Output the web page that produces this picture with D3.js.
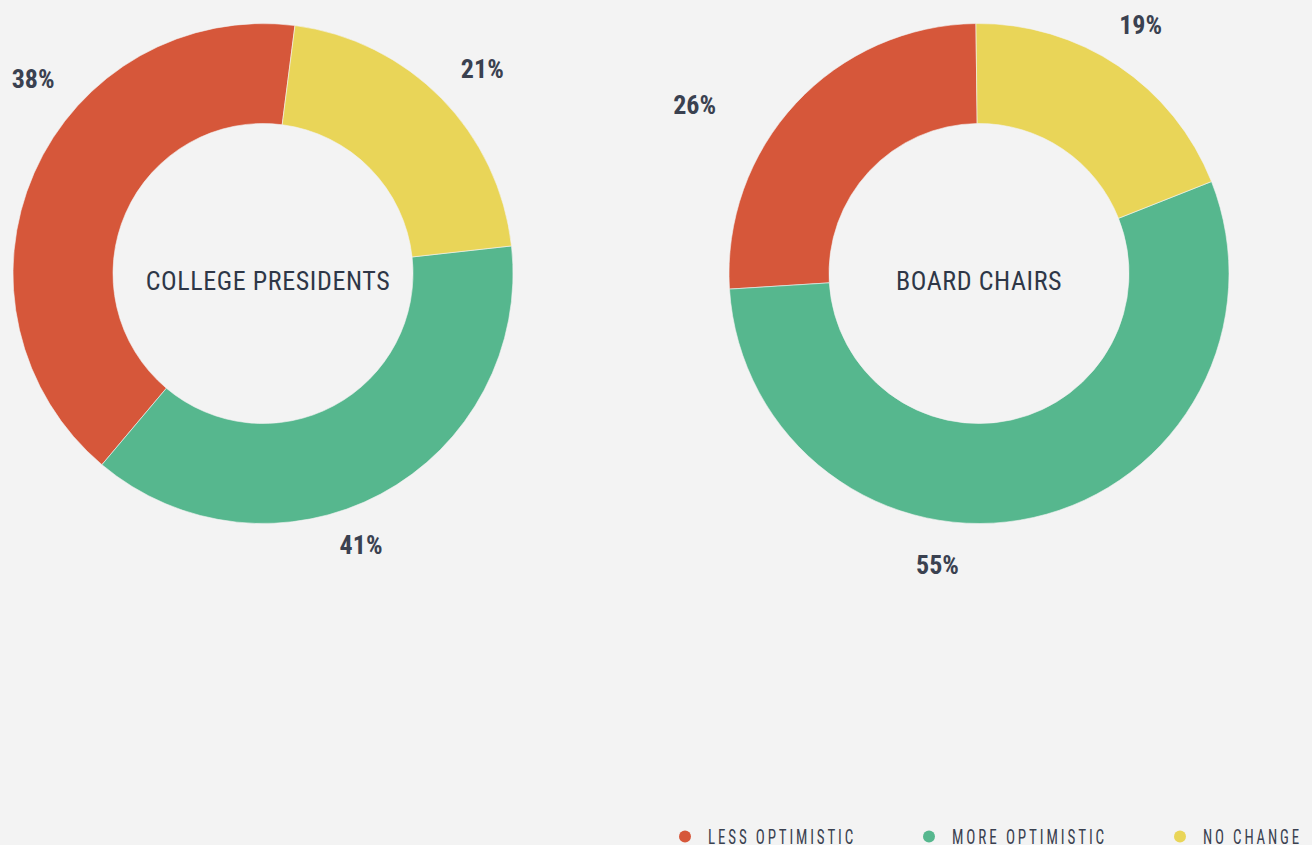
<!DOCTYPE html>
<html>
<head>
<meta charset="utf-8">
<script src="https://cdn.jsdelivr.net/npm/d3@7"></script>
<style>
  html, body { margin: 0; padding: 0; background: #f3f3f3; overflow: hidden; }
  svg { display: block; }
  .cond { font-family: "Liberation Sans Narrow", "Roboto Condensed", "DejaVu Sans Condensed", "Liberation Sans", sans-serif; }
</style>
</head>
<body>
<div id="chart"></div>
<script>
// data
const categories = ["LESS OPTIMISTIC", "MORE OPTIMISTIC", "NO CHANGE"];
const colors = ["#d6573a", "#56b78e", "#e9d558"];
const groups = ["COLLEGE PRESIDENTS", "BOARD CHAIRS"];

// slice sizes as drawn, and the printed labels
const presidentsShare = [40.9, 37.9, 21.2];
const presidentsLabel = ["38%", "41%", "21%"];
const chairsShare = [25.8, 55.0, 19.2];
const chairsLabel = ["26%", "55%", "19%"];

// layout
const width = 1312;
const height = 845;
const centersX = [263, 979];
const centerY = 273.5;
const outerR = 250;
const innerR = 150;
const startDeg = [7.35, -0.7];
const titleDx = [5, 0];
const labelNudgeDeg = [[16.6, 8.2, 1.4], [-12.1, 20.7, -0.9]];
const labelRadius = [[301.6, 287.9, 300.3], [331, 294.1, 297.1]];
const legendTextWidth = [148, 155, 99];

const rad = d => d * Math.PI / 180;
const color = d3.scaleOrdinal().domain(categories).range(colors);

const svg = d3.select("#chart").append("svg")
    .attr("width", width)
    .attr("height", height)
    .attr("viewBox", [0, 0, width, height]);

svg.append("rect")
    .attr("width", width)
    .attr("height", height)
    .attr("fill", "#f3f3f3");

const arc = d3.arc().innerRadius(innerR).outerRadius(outerR);

const series = [
  {name: groups[0], share: presidentsShare, label: presidentsLabel},
  {name: groups[1], share: chairsShare, label: chairsLabel}
];

series.forEach((s, i) => {
  // counter-clockwise from the start angle
  const pie = d3.pie()
      .sort(null)
      .value(d => d.v)
      .startAngle(rad(startDeg[i]))
      .endAngle(rad(startDeg[i]) - 2 * Math.PI);

  const arcs = pie(categories.map((c, j) => ({cat: c, v: s.share[j], label: s.label[j], j})));

  const g = svg.append("g")
      .attr("transform", `translate(${centersX[i]},${centerY})`);

  g.append("g")
    .selectAll("path")
    .data(arcs)
    .join("path")
      .attr("d", arc)
      .attr("fill", d => color(d.data.cat))
      .attr("stroke", "#f3f3f3")
      .attr("stroke-width", 0.6);

  g.append("text")
      .attr("class", "cond")
      .attr("x", titleDx[i])
      .attr("y", 16)
      .attr("text-anchor", "middle")
      .attr("fill", "#2e3747")
      .style("font-size", "26px")
      .style("letter-spacing", "0.6px")
      .text(s.name);

  g.append("g")
    .selectAll("text")
    .data(arcs)
    .join("text")
      .attr("class", "cond")
      .attr("transform", d => {
        const a = (d.startAngle + d.endAngle) / 2 + rad(labelNudgeDeg[i][d.data.j]);
        const r = labelRadius[i][d.data.j];
        return `translate(${r * Math.sin(a)},${-r * Math.cos(a)})`;
      })
      .attr("dy", "0.36em")
      .attr("text-anchor", "middle")
      .attr("fill", "#3a4150")
      .style("font-size", "26px")
      .style("font-weight", "bold")
      .text(d => d.data.label);
});

// legend
const legend = svg.append("g").attr("transform", "translate(685,836.5)");
let lx = 0;
categories.forEach((c, j) => {
  const item = legend.append("g").attr("transform", `translate(${lx},0)`);
  item.append("circle")
      .attr("r", 6)
      .attr("fill", color(c));
  item.append("text")
      .attr("class", "cond")
      .attr("x", 23)
      .attr("y", 7.5)
      .attr("fill", "#3a4150")
      .attr("textLength", legendTextWidth[j])
      .attr("lengthAdjust", "spacingAndGlyphs")
      .style("font-size", "21px")
      .style("letter-spacing", "4px")
      .text(c);
  lx += 23 + legendTextWidth[j] + 73;
});
</script>
</body>
</html>
